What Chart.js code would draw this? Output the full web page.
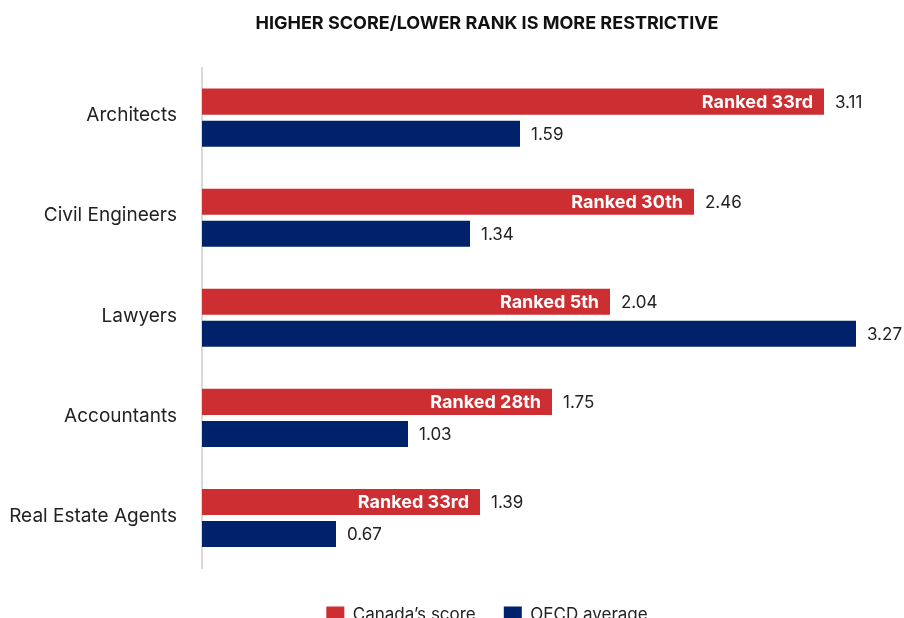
<!DOCTYPE html>
<html>
<head>
<meta charset="utf-8">
<script src="https://cdn.jsdelivr.net/npm/chart.js@4.4.1/dist/chart.umd.min.js"></script>
<style>
  html, body { margin: 0; padding: 0; background: #fff; overflow: hidden; }
  #wrap { width: 904px; height: 633px; position: relative; }
</style>
</head>
<body>
<div id="wrap"><canvas id="chart"></canvas></div>
<script>
const categories = ['Architects', 'Civil Engineers', 'Lawyers', 'Accountants', 'Real Estate Agents'];
const canadaScores = [3.11, 2.46, 2.04, 1.75, 1.39];
const oecdAverages = [1.59, 1.34, 3.27, 1.03, 0.67];
const canadaRanks = ['Ranked 33rd', 'Ranked 30th', 'Ranked 5th', 'Ranked 28th', 'Ranked 33rd'];
const titleText = 'HIGHER SCORE/LOWER RANK IS MORE RESTRICTIVE';

const FONT = 'Inter, "DejaVu Sans", sans-serif';
const RED = '#cd2e32';
const NAVY = '#00226a';

// Writes the rank inside each Canada bar and the score after every bar.
const barLabels = {
  id: 'barLabels',
  afterDatasetsDraw(chart) {
    const ctx = chart.ctx;
    ctx.save();
    ctx.textBaseline = 'middle';
    chart.data.datasets.forEach((ds, di) => {
      const meta = chart.getDatasetMeta(di);
      meta.data.forEach((bar, i) => {
        const v = ds.data[i];
        ctx.font = '17px ' + FONT;
        ctx.fillStyle = '#222';
        ctx.textAlign = 'left';
        ctx.fillText(v.toFixed(2), bar.x + 11, bar.y + 1);
        if (di === 0) {
          ctx.font = 'bold 18px ' + FONT;
          ctx.fillStyle = '#fff';
          ctx.textAlign = 'right';
          ctx.fillText(canadaRanks[i], bar.x - 11, bar.y + 1);
        }
      });
    });
    ctx.restore();
  }
};

new Chart(document.getElementById('chart'), {
  type: 'bar',
  data: {
    labels: categories,
    datasets: [
      { label: 'Canada\u2019s score', data: canadaScores, backgroundColor: RED },
      { label: 'OECD average', data: oecdAverages, backgroundColor: NAVY }
    ]
  },
  options: {
    indexAxis: 'y',
    responsive: true,
    maintainAspectRatio: false,
    animation: false,
    categoryPercentage: 0.64,
    barPercentage: 0.8125,
    // negative right padding moves the title and legend right of centre
    layout: { padding: { left: 0, right: -70, top: 0, bottom: 0 } },
    scales: {
      x: {
        display: true, min: 0, max: 3.51,
        ticks: { display: false },
        grid: { display: false },
        border: { display: false },
        afterFit(scale) { scale.height = 10; }
      },
      y: {
        grid: { display: false },
        border: { display: true, color: '#d9d9d9', width: 2 },
        ticks: { color: '#222', font: { family: FONT, size: 19 }, padding: 17, labelOffset: -2 },
        afterFit(scale) { scale.width = 202; }
      }
    },
    plugins: {
      title: {
        display: true,
        text: titleText,
        color: '#111',
        font: { family: FONT, size: 18, weight: 'bold' },
        padding: { top: 13, bottom: 33 }
      },
      legend: {
        position: 'bottom',
        labels: {
          boxWidth: 18,
          boxHeight: 16,
          padding: 28,
          color: '#222',
          font: { family: FONT, size: 17 }
        }
      },
      tooltip: { enabled: false }
    }
  },
  plugins: [barLabels]
});
</script>
</body>
</html>
